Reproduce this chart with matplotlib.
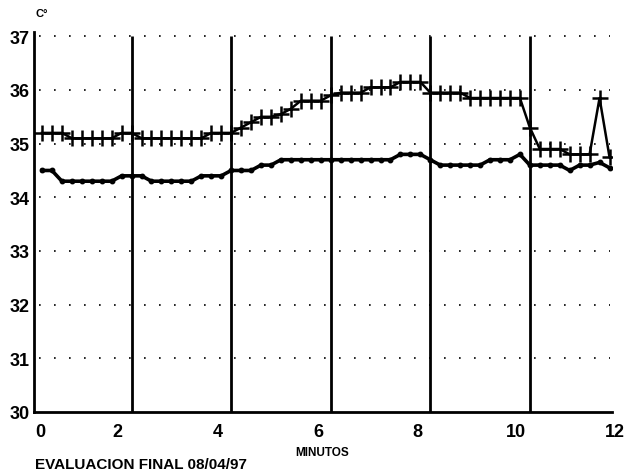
import matplotlib
matplotlib.use("Agg")
import matplotlib.pyplot as plt
from matplotlib.transforms import offset_copy, blended_transform_factory

# ---- data ----
minutes = [0.2, 0.4, 0.6, 0.8, 1.0, 1.2, 1.4, 1.6, 1.8, 2.0,
           2.2, 2.4, 2.6, 2.8, 3.0, 3.2, 3.4, 3.6, 3.8, 4.0,
           4.2, 4.4, 4.6, 4.8, 5.0, 5.2, 5.4, 5.6, 5.8, 6.0,
           6.2, 6.4, 6.6, 6.8, 7.0, 7.2, 7.4, 7.6, 7.8, 8.0,
           8.2, 8.4, 8.6, 8.8, 9.0, 9.2, 9.4, 9.6, 9.8, 10.0,
           10.2, 10.4, 10.6, 10.8, 11.0, 11.2, 11.4, 11.6]

upper_temp = [35.2, 35.2, 35.2, 35.1, 35.1, 35.1, 35.1, 35.1, 35.2, 35.2,
              35.1, 35.1, 35.1, 35.1, 35.1, 35.1, 35.1, 35.2, 35.2, 35.2,
              35.3, 35.4, 35.5, 35.5, 35.55, 35.65, 35.8, 35.8, 35.8, 35.9,
              35.95, 35.95, 35.95, 36.05, 36.05, 36.05, 36.15, 36.15, 36.15, 35.95,
              35.95, 35.95, 35.95, 35.85, 35.85, 35.85, 35.85, 35.85, 35.85, 35.3,
              34.9, 34.9, 34.9, 34.8, 34.8, 34.8, 35.85, 34.75]

lower_temp = [34.5, 34.5, 34.3, 34.3, 34.3, 34.3, 34.3, 34.3, 34.4, 34.4,
              34.4, 34.3, 34.3, 34.3, 34.3, 34.3, 34.4, 34.4, 34.4, 34.5,
              34.5, 34.5, 34.6, 34.6, 34.7, 34.7, 34.7, 34.7, 34.7, 34.7,
              34.7, 34.7, 34.7, 34.7, 34.7, 34.7, 34.8, 34.8, 34.8, 34.7,
              34.6, 34.6, 34.6, 34.6, 34.6, 34.7, 34.7, 34.7, 34.8, 34.6,
              34.6, 34.6, 34.6, 34.5, 34.6, 34.6, 34.65, 34.55]

y_ticks = [30, 31, 32, 33, 34, 35, 36, 37]
x_tick_values = [0, 2, 4, 6, 8, 10, 12]
x_tick_labels = ["0", "2", "4", "6", "8", "10", "12"]
v_lines = [2, 4, 6, 8, 10]

W, H = 627, 477
fig = plt.figure(figsize=(W / 100, H / 100), dpi=100)
plt.rcParams['font.family'] = ['Liberation Sans', 'DejaVu Sans']

ax = fig.add_axes([34 / W, (H - 413) / H, 578 / W, 380 / H])
ax.set_xlim(0.04, 11.65)
ax.set_ylim(30, 37.08)

# dotted horizontal guides
for yv in y_ticks[1:]:
    ax.plot([0.15, 11.6], [yv, yv], color="black", lw=1.2,
            linestyle=(0, (1, 8)), zorder=1)

# vertical lines
ax.vlines(v_lines, 30, 37.0, color="black", lw=2.0, zorder=2)

# series
ax.plot(minutes, upper_temp, color="black", lw=1.8, marker="+",
        markersize=12, markeredgewidth=1.8, zorder=4)
ax.plot(minutes, lower_temp, color="black", lw=2.6, marker="o",
        markersize=3.2, zorder=4)

# spines
for s in ["top", "right"]:
    ax.spines[s].set_visible(False)
ax.spines["left"].set_linewidth(2.0)
ax.spines["bottom"].set_linewidth(2.0)

ax.set_yticks(y_ticks)
ax.set_yticklabels([str(v) for v in y_ticks], fontsize=13, fontweight="bold")
ax.tick_params(axis="y", length=0, pad=3)
ax.set_xticks([])

# x tick labels (manual, as in the original scan)
trans = blended_transform_factory(ax.transData, ax.transAxes)
shifts = [8, -14, -13, -12, -13, -14, -15]
for v, lab, sh in zip(x_tick_values, x_tick_labels, shifts):
    t = offset_copy(trans, fig=fig, x=sh, y=0, units="dots")
    ax.text(v, -0.03, lab, transform=t, ha="center", va="top",
            fontsize=13, fontweight="bold", clip_on=False)

fig.text(36 / W, 1 - 14 / H, "C°", fontsize=8, fontweight="bold",
         ha="left", va="center")
fig.text(35 / W, 1 - 465 / H, "EVALUACION FINAL 08/04/97", fontsize=11,
         fontweight="bold", ha="left", va="center")
fig.text(295 / W, 1 - 453 / H, "MINUTOS", fontsize=8.5, fontweight="bold",
         ha="left", va="center")

fig.savefig("out.png", dpi=100, facecolor="white")
